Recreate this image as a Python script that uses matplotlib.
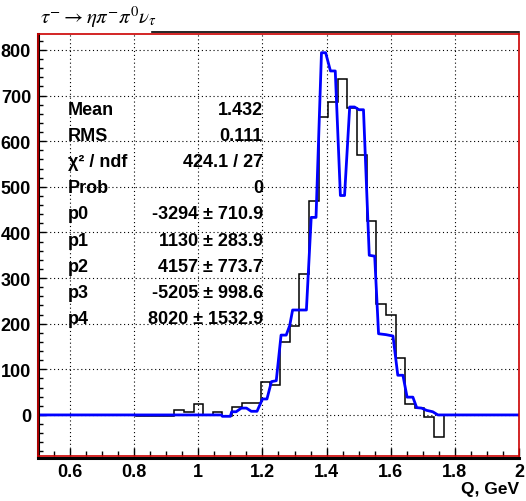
import numpy as np
import matplotlib
matplotlib.use("Agg")
import matplotlib.pyplot as plt
from matplotlib.ticker import MultipleLocator, FuncFormatter

plt.rcParams['font.family'] = ['Liberation Sans', 'DejaVu Sans']
plt.rcParams['mathtext.fontset'] = 'stix'

# histogram: 50 bins of 0.03 GeV
hist_lo = 0.505
bin_w = 0.03
counts = [0, 0, 0, 0, 0, 0, 0, 0, 0, 0,
          -3, -3, -3, -3, 11, 7, 23, 0, 6, -3,
          18, 26, 27, 72, 66, 160, 195, 309, 469, 654,
          686, 737, 673, 569, 425, 244, 218, 124, 25, 16,
          -4, -49, 0, 0, 0, 0, 0, 0, 0, 0]

# fit curve
fit_x = [0.5, 1.072, 1.075, 1.100, 1.104, 1.118, 1.134, 1.150, 1.165, 1.183,
         1.200, 1.214, 1.228, 1.243, 1.258, 1.274, 1.285, 1.294, 1.337, 1.352,
         1.367, 1.384, 1.397, 1.412, 1.427, 1.443, 1.456, 1.472, 1.487, 1.501,
         1.515, 1.533, 1.550, 1.562, 1.585, 1.607, 1.622, 1.638, 1.651, 1.669,
         1.681, 1.696, 1.712, 1.731, 1.747, 2.0]
fit_y = [0, 0, -3, -3, 7, 7, 15, 15, 8, 8,
         35, 35, 73, 75, 175, 175, 196, 230, 230, 433,
         433, 794, 794, 754, 754, 481, 481, 675, 675, 669,
         669, 350, 348, 178, 176, 173, 87, 87, 39, 39,
         16, 15, 10, 7, 0, 0]

stat_names = ['Mean', 'RMS', 'χ² / ndf', 'Prob', 'p0', 'p1', 'p2', 'p3', 'p4']
stat_vals = ['1.432', '0.111', '424.1 / 27', '0', '-3294 ± 710.9',
             '1130 ± 283.9', '4157 ± 773.7', '-5205 ± 998.6', '8020 ± 1532.9']

W, H = 526, 502
fig = plt.figure(figsize=(W / 100, H / 100), dpi=100)
ax = fig.add_axes([38 / W, 1 - 457 / H, (519 - 38) / W, (457 - 35) / H])

edges = hist_lo + bin_w * np.arange(len(counts) + 1)
ax.stairs(counts, edges, color='black', lw=1.1, baseline=None)
ax.plot(fit_x, fit_y, color='#0000ff', lw=2)

ax.set_xlim(0.5, 2.0)
ax.set_ylim(-90, 835)

ax.xaxis.set_major_locator(MultipleLocator(0.2))
ax.xaxis.set_minor_locator(MultipleLocator(0.05))
ax.yaxis.set_major_locator(MultipleLocator(100))
ax.yaxis.set_minor_locator(MultipleLocator(20))
ax.xaxis.set_major_formatter(FuncFormatter(lambda v, p: ('%g' % round(v, 2))))
ax.tick_params(which='both', direction='in', top=False, right=False, width=1)
ax.tick_params(which='major', length=6, labelsize=13, pad=5)
ax.tick_params(which='minor', length=3.5)
for lab in ax.get_xticklabels() + ax.get_yticklabels():
    lab.set_fontweight('bold')

ax.grid(True, which='major', color='black', lw=0.8, linestyle=(0, (1, 2.5)))

for s in ax.spines.values():
    s.set_color('#cc0000')
    s.set_linewidth(1.2)
ax.plot([0, 0], [0, 1], transform=ax.transAxes, color='black', lw=2.2, clip_on=False)
ax.plot([0, 1], [-0.004, -0.004], transform=ax.transAxes, color='black', lw=2.2, clip_on=False)
ax.plot([(152 - 38) / (519 - 38), 1], [1.004, 1.004], transform=ax.transAxes,
        color='black', lw=1.2, clip_on=False)

# stats box
for i, (n, v) in enumerate(zip(stat_names, stat_vals)):
    y = 1 - (110.5 + 26.1 * i) / H
    fig.text(68 / W, y, n, fontsize=13, fontweight='bold', va='center', ha='left')
    fig.text(263 / W, y, v, fontsize=13, fontweight='bold', va='center', ha='right')

fig.text(40 / W, 1 - 17 / H, r'$\tau^{-}\rightarrow\eta\pi^{-}\pi^{0}\nu_{\tau}$',
         fontsize=15, va='center', ha='left')
fig.text(519 / W, 1 - 490 / H, 'Q, GeV', fontsize=12.5, fontweight='bold',
         va='center', ha='right')

fig.savefig('out.png', dpi=100)
